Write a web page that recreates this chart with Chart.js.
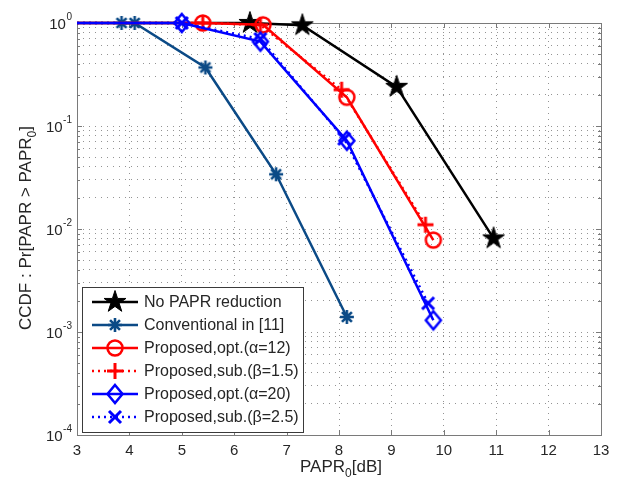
<!DOCTYPE html>
<html>
<head>
<meta charset="utf-8">
<script src="https://cdn.jsdelivr.net/npm/chart.js@4.4.1/dist/chart.umd.min.js"></script>
<style>
  html, body { margin: 0; padding: 0; background: #fff; }
  #wrap { width: 625px; height: 480px; }
</style>
</head>
<body>
<div id="wrap"><canvas id="ccdf" width="625" height="480"></canvas></div>
<script>
// PAPR0 [dB] and CCDF for each curve
const noRedX  = [3, 6.3, 7.3, 9.1, 10.95];
const noRedY  = [1, 1, 0.95, 0.24, 0.0081];
const convX   = [3.85, 4.1, 5.45, 6.8, 8.15];
const convY   = [1, 1, 0.37, 0.034, 0.0014];
const optA12X = [3, 5.4, 6.55, 8.15, 9.8];
const optA12Y = [1, 1, 0.96, 0.19, 0.0078];
const subB15X = [3, 5.4, 6.5, 8.05, 9.65];
const subB15Y = [1, 1, 0.96, 0.225, 0.011];
const optA20X = [3, 5.0, 6.5, 8.15, 9.8];
const optA20Y = [1, 1, 0.66, 0.072, 0.0013];
const subB25X = [3, 5.0, 6.5, 8.1, 9.7];
const subB25Y = [1, 1, 0.7, 0.075, 0.0019];

const seriesNames = [
  'No PAPR reduction',
  'Conventional in [11]',
  'Proposed,opt.(\u03b1=12)',
  'Proposed,sub.(\u03b2=1.5)',
  'Proposed,opt.(\u03b1=20)',
  'Proposed,sub.(\u03b2=2.5)'
];
const decades = [0, -1, -2, -3, -4];

const FONT = '"Liberation Sans", Arial, sans-serif';
const TEXT = '#262626';
const NAVY = '#0b4a86';
const GRID = 'rgba(0,0,0,0.42)';

// marker bitmaps, shared by the plot and the legend
function makeMarker(kind, color) {
  const s = 28;
  const c = document.createElement('canvas');
  c.width = s; c.height = s;
  const g = c.getContext('2d');
  const m = s / 2;
  g.strokeStyle = color;
  g.fillStyle = color;
  g.lineWidth = 2.5;
  g.beginPath();
  if (kind === 'star5') {
    for (let i = 0; i < 10; i++) {
      const r = i % 2 ? 4.4 : 11.5;
      const a = -Math.PI / 2 + i * Math.PI / 5;
      const px = m + r * Math.cos(a), py = m + r * Math.sin(a);
      if (i === 0) g.moveTo(px, py); else g.lineTo(px, py);
    }
    g.closePath();
    g.fill();
    g.lineWidth = 1;
    g.stroke();
  } else if (kind === 'asterisk') {
    g.lineWidth = 2.6;
    for (let i = 0; i < 4; i++) {
      const a = i * Math.PI / 4;
      g.moveTo(m - 7 * Math.cos(a), m - 7 * Math.sin(a));
      g.lineTo(m + 7 * Math.cos(a), m + 7 * Math.sin(a));
    }
    g.stroke();
  } else if (kind === 'circle') {
    g.arc(m, m, 7.5, 0, Math.PI * 2);
    g.stroke();
  } else if (kind === 'plus') {
    g.lineWidth = 3;
    g.moveTo(m - 8, m); g.lineTo(m + 8, m);
    g.moveTo(m, m - 8); g.lineTo(m, m + 8);
    g.stroke();
  } else if (kind === 'diamond') {
    g.moveTo(m, m - 9); g.lineTo(m + 7.5, m);
    g.lineTo(m, m + 9); g.lineTo(m - 7.5, m);
    g.closePath();
    g.stroke();
  } else if (kind === 'x') {
    g.lineWidth = 3;
    g.moveTo(m - 6, m - 6); g.lineTo(m + 6, m + 6);
    g.moveTo(m + 6, m - 6); g.lineTo(m - 6, m + 6);
    g.stroke();
  }
  return c;
}

const seriesX = [noRedX, convX, optA12X, subB15X, optA20X, subB25X];
const seriesY = [noRedY, convY, optA12Y, subB15Y, optA20Y, subB25Y];
const colors  = ['#000000', NAVY, '#ff0000', '#ff0000', '#0000ff', '#0000ff'];
const dashes  = [[], [], [], [2, 4], [], [2, 4]];
const markers = [
  makeMarker('star5', '#000000'),
  makeMarker('asterisk', NAVY),
  makeMarker('circle', '#ff0000'),
  makeMarker('plus', '#ff0000'),
  makeMarker('diamond', '#0000ff'),
  makeMarker('x', '#0000ff')
];
// curves that start from the left edge get no marker there
const hideFirst = [true, false, true, true, true, true];

const datasets = seriesNames.map((name, k) => ({
  label: name,
  data: seriesX[k].map((x, i) => ({ x: x, y: seriesY[k][i] })),
  showLine: true,
  borderColor: colors[k],
  backgroundColor: colors[k],
  borderWidth: 2.5,
  borderDash: dashes[k],
  pointStyle: markers[k],
  pointRadius: ctx => (hideFirst[k] && ctx.dataIndex === 0) ? 0 : 6,
  tension: 0,
  clip: false,
  order: 6 - k
}));

function drawSubText(ctx, parts, x, y, align) {
  // parts: [text, isSub]
  const big = '17px ' + FONT, small = '12px ' + FONT;
  let total = 0;
  parts.forEach(p => { ctx.font = p[1] ? small : big; total += ctx.measureText(p[0]).width; });
  let cx = align === 'center' ? x - total / 2 : x;
  ctx.textAlign = 'left';
  ctx.textBaseline = 'alphabetic';
  parts.forEach(p => {
    ctx.font = p[1] ? small : big;
    ctx.fillText(p[0], cx, p[1] ? y + 5 : y);
    cx += ctx.measureText(p[0]).width;
  });
}

const axesFrame = {
  id: 'axesFrame',
  beforeDatasetsDraw(chart) {
    const { ctx, chartArea: a, scales } = chart;
    ctx.save();
    ctx.strokeStyle = '#7a7a7a';
    ctx.lineWidth = 1;
    ctx.beginPath();
    // inner tick marks
    for (let v = 3; v <= 13; v++) {
      const px = Math.round(scales.x.getPixelForValue(v)) + 0.5;
      ctx.moveTo(px, a.bottom); ctx.lineTo(px, a.bottom - 5);
      ctx.moveTo(px, a.top); ctx.lineTo(px, a.top + 5);
    }
    for (let d = -4; d <= 0; d++) {
      for (let k = 1; k <= 9; k++) {
        if (d === 0 && k > 1) break;
        const py = Math.round(scales.y.getPixelForValue(k * Math.pow(10, d))) + 0.5;
        const len = k === 1 ? 5 : 3;
        ctx.moveTo(a.left, py); ctx.lineTo(a.left + len, py);
        ctx.moveTo(a.right, py); ctx.lineTo(a.right - len, py);
      }
    }
    ctx.stroke();
    ctx.strokeRect(Math.round(a.left) + 0.5, Math.round(a.top) + 0.5,
      Math.round(a.right - a.left), Math.round(a.bottom - a.top));
    ctx.restore();
  },
  afterDraw(chart) {
    const { ctx, scales } = chart;
    ctx.save();
    ctx.fillStyle = TEXT;

    // y tick labels 10^n
    decades.forEach(d => {
      const py = scales.y.getPixelForValue(Math.pow(10, d));
      const exp = String(d);
      ctx.font = '10px ' + FONT;
      const we = ctx.measureText(exp).width;
      const xEnd = 72;
      ctx.textBaseline = 'alphabetic';
      ctx.textAlign = 'left';
      ctx.fillText(exp, xEnd - we, py - 3);
      ctx.font = '15px ' + FONT;
      ctx.textAlign = 'right';
      ctx.fillText('10', xEnd - we - 0.5, py + 6);
    });

    // axis titles
    drawSubText(ctx, [['PAPR', false], ['0', true], ['[dB]', false]], 341, 472, 'center');
    ctx.save();
    ctx.translate(31, 228);
    ctx.rotate(-Math.PI / 2);
    drawSubText(ctx, [['CCDF : Pr[PAPR > PAPR', false], ['0', true], [']', false]], 0, 0, 'center');
    ctx.restore();

    // legend box
    const bx = 82, by = 287, bw = 221, bh = 145;
    ctx.fillStyle = '#ffffff';
    ctx.fillRect(bx, by, bw, bh);
    ctx.strokeStyle = '#3a3a3a';
    ctx.lineWidth = 1;
    ctx.strokeRect(bx + 0.5, by + 0.5, bw, bh);
    seriesNames.forEach((name, k) => {
      const ry = 302 + k * 23;
      ctx.beginPath();
      ctx.strokeStyle = colors[k];
      ctx.lineWidth = 2.5;
      ctx.setLineDash(dashes[k]);
      ctx.moveTo(92, ry); ctx.lineTo(138, ry);
      ctx.stroke();
      ctx.setLineDash([]);
      const mk = markers[k];
      ctx.drawImage(mk, 115 - mk.width / 2, ry - mk.height / 2);
      ctx.fillStyle = TEXT;
      ctx.font = '16px ' + FONT;
      ctx.textAlign = 'left';
      ctx.textBaseline = 'middle';
      ctx.fillText(name, 144, ry + 1);
    });
    ctx.restore();
  }
};

new Chart(document.getElementById('ccdf'), {
  type: 'scatter',
  data: { datasets: datasets },
  options: {
    responsive: false,
    animation: false,
    events: [],
    layout: { padding: { top: 23, right: 24, left: 0, bottom: 0 } },
    plugins: { legend: { display: false }, tooltip: { enabled: false } },
    scales: {
      x: {
        type: 'linear',
        min: 3,
        max: 13,
        ticks: {
          stepSize: 1,
          color: TEXT,
          padding: 7,
          font: { family: FONT, size: 15 }
        },
        grid: { color: GRID, lineWidth: 1, drawTicks: false },
        border: { display: false, dash: [1, 5] },
        afterFit(axis) { axis.height = 45; }
      },
      y: {
        type: 'logarithmic',
        min: 1e-4,
        max: 1,
        ticks: { display: false },
        grid: { color: GRID, lineWidth: 1, drawTicks: false },
        border: { display: false, dash: [1, 5] },
        afterBuildTicks(axis) {
          const t = [];
          for (let d = -4; d <= 0; d++) {
            for (let k = 1; k <= 9; k++) {
              const v = k * Math.pow(10, d);
              if (v > 1.0001) break;
              t.push({ value: v });
            }
          }
          axis.ticks = t;
        },
        afterFit(axis) { axis.width = 77; }
      }
    }
  },
  plugins: [axesFrame]
});
</script>
</body>
</html>
